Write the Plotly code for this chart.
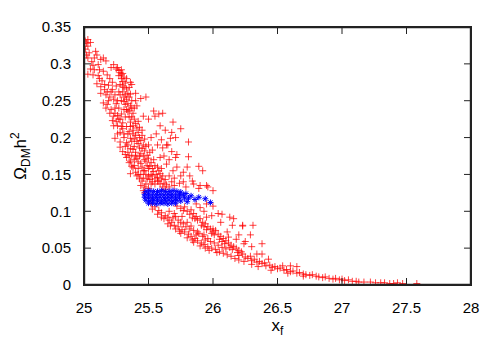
import plotly.graph_objects as go

# relic density vs freeze-out parameter
# (x_f, Omega_DM h^2) pairs, grouped by region of the scan

red_top = [
    (25.01, 0.331), (25.02, 0.328), (25.03, 0.333), (25.03, 0.324), (25.05, 0.329),
    (25.01, 0.320), (25.02, 0.312), (25.09, 0.317), (25.10, 0.312), (25.08, 0.308),
    (25.03, 0.308), (25.15, 0.308), (25.17, 0.304), (25.13, 0.306), (25.07, 0.298),
    (25.11, 0.299), (25.05, 0.293), (25.03, 0.286), (25.07, 0.285), (25.11, 0.284),
    (25.10, 0.273), (25.13, 0.269), (25.14, 0.277), (25.19, 0.271), (25.13, 0.260),
    (25.17, 0.258), (25.16, 0.265), (25.15, 0.247), (25.17, 0.240), (25.20, 0.233),
    (25.19, 0.250), (25.21, 0.262), (25.23, 0.229), (25.24, 0.240), (25.25, 0.246),
    (25.22, 0.223), (25.26, 0.216), (25.23, 0.216), (25.18, 0.245), (25.21, 0.238),
    (25.23, 0.252), (25.26, 0.230), (25.25, 0.222), (25.27, 0.240), (25.29, 0.232),
    (25.29, 0.250), (25.20, 0.280), (25.22, 0.275), (25.12, 0.292), (25.18, 0.285),
]

red_band = [
    (25.23, 0.299), (25.21, 0.295), (25.25, 0.293), (25.27, 0.291), (25.26, 0.295),
    (25.28, 0.288), (25.29, 0.292), (25.30, 0.287), (25.27, 0.284), (25.29, 0.280),
    (25.31, 0.282), (25.30, 0.276), (25.32, 0.274), (25.28, 0.272), (25.31, 0.268),
    (25.33, 0.266), (25.30, 0.262), (25.32, 0.258), (25.34, 0.260), (25.33, 0.252),
    (25.35, 0.255), (25.31, 0.249), (25.34, 0.246), (25.36, 0.243), (25.35, 0.237),
    (25.37, 0.240), (25.38, 0.233), (25.33, 0.238), (25.37, 0.228), (25.39, 0.225),
    (25.36, 0.221), (25.40, 0.219), (25.41, 0.213), (25.38, 0.210), (25.42, 0.207),
    (25.40, 0.203), (25.43, 0.200), (25.45, 0.203), (25.44, 0.196), (25.42, 0.192),
    (25.46, 0.190), (25.45, 0.185), (25.47, 0.182), (25.48, 0.188), (25.44, 0.178),
    (25.49, 0.176), (25.50, 0.172), (25.48, 0.168), (25.52, 0.166), (25.51, 0.161),
    (25.53, 0.158), (25.55, 0.162), (25.54, 0.154), (25.56, 0.150), (25.52, 0.150),
    (25.57, 0.146), (25.59, 0.151), (25.58, 0.141), (25.60, 0.144), (25.62, 0.138),
    (25.61, 0.133), (25.64, 0.136), (25.55, 0.137), (25.66, 0.133), (25.63, 0.130),
    (25.36, 0.275), (25.37, 0.272), (25.40, 0.260), (25.44, 0.253), (25.48, 0.255),
    (25.40, 0.250), (25.41, 0.243), (25.36, 0.259), (25.29, 0.285), (25.30, 0.270),
    (25.31, 0.255), (25.32, 0.245), (25.34, 0.235), (25.35, 0.228), (25.36, 0.215),
    (25.38, 0.205), (25.39, 0.198), (25.41, 0.195), (25.43, 0.186), (25.46, 0.175),
    (25.47, 0.170), (25.49, 0.162), (25.50, 0.158), (25.53, 0.148), (25.55, 0.144),
    (25.59, 0.137), (25.33, 0.280), (25.35, 0.268), (25.37, 0.250), (25.39, 0.240),
    (25.42, 0.222), (25.43, 0.214), (25.45, 0.210), (25.47, 0.198), (25.50, 0.190),
    (25.51, 0.180), (25.54, 0.170), (25.57, 0.160), (25.58, 0.155), (25.61, 0.148),
    (25.63, 0.143),
]

red_edge = [
    (25.24, 0.199), (25.28, 0.194), (25.28, 0.187), (25.26, 0.205), (25.28, 0.207),
    (25.32, 0.177), (25.33, 0.173), (25.30, 0.181), (25.37, 0.161), (25.38, 0.159),
    (25.35, 0.166), (25.41, 0.148), (25.40, 0.153), (25.45, 0.141), (25.44, 0.135),
    (25.46, 0.128), (25.43, 0.144), (25.36, 0.168), (25.42, 0.167), (25.36, 0.151),
    (25.46, 0.155), (25.49, 0.144), (25.57, 0.141), (25.38, 0.184), (25.36, 0.199),
    (25.38, 0.216), (25.28, 0.225), (25.46, 0.229), (25.50, 0.225), (25.30, 0.212),
    (25.33, 0.193), (25.34, 0.205), (25.40, 0.175), (25.47, 0.133), (25.50, 0.131),
    (25.52, 0.137), (25.48, 0.137), (25.30, 0.220), (25.31, 0.200), (25.32, 0.188),
    (25.34, 0.180), (25.35, 0.175), (25.39, 0.170), (25.42, 0.158), (25.44, 0.150),
]

red_fill = [
    (25.20, 0.255), (25.24, 0.258), (25.27, 0.262), (25.22, 0.265), (25.25, 0.270),
    (25.18, 0.262), (25.26, 0.250), (25.28, 0.258), (25.24, 0.233), (25.27, 0.225),
    (25.31, 0.238), (25.29, 0.215), (25.32, 0.228), (25.33, 0.215), (25.35, 0.208),
    (25.31, 0.205), (25.37, 0.195), (25.34, 0.190), (25.36, 0.185), (25.39, 0.188),
    (25.40, 0.180), (25.37, 0.176), (25.41, 0.172), (25.43, 0.175), (25.44, 0.165),
    (25.45, 0.160), (25.47, 0.155), (25.48, 0.150), (25.50, 0.148), (25.51, 0.143),
    (25.53, 0.140), (25.46, 0.145), (25.39, 0.162), (25.42, 0.150), (25.16, 0.272),
    (25.12, 0.280), (25.15, 0.290), (25.08, 0.292), (25.06, 0.303), (25.04, 0.315),
]

red_spread = [
    (25.54, 0.236), (25.58, 0.232), (25.55, 0.229), (25.61, 0.233), (25.69, 0.221),
    (25.59, 0.216), (25.63, 0.210), (25.68, 0.207), (25.75, 0.212), (25.71, 0.200),
    (25.67, 0.199), (25.81, 0.194), (25.64, 0.190), (25.61, 0.186), (25.68, 0.181),
    (25.71, 0.173), (25.81, 0.174), (25.64, 0.164), (25.72, 0.160), (25.80, 0.160),
    (25.89, 0.161), (25.92, 0.155), (25.75, 0.148), (25.82, 0.148), (25.77, 0.140),
    (25.85, 0.137), (25.90, 0.135), (25.95, 0.135), (26.00, 0.128), (25.65, 0.190),
    (25.72, 0.177), (25.77, 0.153), (25.59, 0.173), (25.57, 0.190), (25.66, 0.170),
    (25.69, 0.155), (25.84, 0.141), (25.89, 0.131), (25.96, 0.133), (25.70, 0.145),
    (25.74, 0.138), (25.52, 0.200), (25.56, 0.205), (25.60, 0.197), (25.53, 0.183),
    (25.62, 0.175), (25.60, 0.158), (25.66, 0.148), (25.79, 0.133), (25.70, 0.135),
    (25.68, 0.140),
]

red_upper_branch = [
    (25.72, 0.107), (25.75, 0.104), (25.78, 0.106), (25.80, 0.100), (25.83, 0.102),
    (25.82, 0.096), (25.85, 0.097), (25.87, 0.093), (25.84, 0.091), (25.88, 0.088),
    (25.90, 0.090), (25.92, 0.085), (25.91, 0.081), (25.94, 0.083), (25.96, 0.079),
    (25.95, 0.075), (25.98, 0.076), (26.00, 0.072), (26.02, 0.074), (26.01, 0.068),
    (26.04, 0.069), (26.06, 0.066), (26.05, 0.062), (26.08, 0.063), (26.10, 0.060),
    (26.12, 0.057), (26.09, 0.056), (26.14, 0.054), (26.16, 0.052), (26.18, 0.050),
    (26.15, 0.048), (26.20, 0.047), (26.22, 0.045), (25.77, 0.101), (25.86, 0.090),
    (25.93, 0.079), (25.99, 0.070), (26.07, 0.059), (26.13, 0.051), (26.19, 0.044),
]

red_lower_branch = [
    (25.47, 0.125), (25.50, 0.118), (25.52, 0.110), (25.55, 0.106), (25.53, 0.103),
    (25.58, 0.101), (25.60, 0.098), (25.57, 0.096), (25.63, 0.094), (25.62, 0.090),
    (25.66, 0.088), (25.68, 0.085), (25.65, 0.083), (25.70, 0.081), (25.73, 0.079),
    (25.71, 0.076), (25.76, 0.075), (25.78, 0.072), (25.75, 0.070), (25.81, 0.069),
    (25.83, 0.066), (25.80, 0.064), (25.86, 0.063), (25.88, 0.060), (25.85, 0.058),
    (25.91, 0.057), (25.93, 0.055), (25.90, 0.053), (25.96, 0.052), (25.99, 0.050),
    (26.02, 0.048), (25.97, 0.047), (26.05, 0.045), (26.08, 0.043), (26.11, 0.041),
    (26.14, 0.039), (26.17, 0.036), (26.20, 0.034), (26.24, 0.032), (25.60, 0.092),
    (25.67, 0.080), (25.74, 0.073), (25.84, 0.061), (25.94, 0.050), (26.03, 0.044),
]

red_between = [
    (25.65, 0.092), (25.69, 0.091), (25.73, 0.088), (25.71, 0.093), (25.77, 0.083),
    (25.79, 0.079), (25.75, 0.085), (25.82, 0.076), (25.85, 0.074), (25.83, 0.080),
    (25.89, 0.070), (25.92, 0.066), (25.87, 0.068), (25.96, 0.063), (25.98, 0.059),
    (26.01, 0.057), (26.04, 0.054), (26.07, 0.051), (26.10, 0.049), (25.94, 0.061),
]

red_middle = [
    (26.00, 0.107), (25.99, 0.094), (26.07, 0.096), (26.13, 0.092), (26.15, 0.081),
    (26.23, 0.081), (26.31, 0.081), (26.29, 0.068), (26.38, 0.056), (26.20, 0.068),
    (26.24, 0.056), (26.11, 0.072), (26.06, 0.085), (26.00, 0.076), (26.16, 0.090),
    (26.23, 0.080), (26.04, 0.097), (25.93, 0.100), (25.95, 0.110), (25.90, 0.105),
    (25.87, 0.110), (25.88, 0.072), (25.93, 0.068), (26.12, 0.065), (26.18, 0.062),
    (26.25, 0.059), (26.30, 0.052), (26.34, 0.042), (26.38, 0.042), (25.76, 0.093),
    (25.80, 0.085), (25.70, 0.097), (25.66, 0.100), (25.95, 0.092),
]

red_tail = [
    (26.20, 0.040), (26.23, 0.042), (26.25, 0.038), (26.27, 0.036), (26.29, 0.039),
    (26.30, 0.033), (26.32, 0.035), (26.34, 0.031), (26.36, 0.032), (26.38, 0.029),
    (26.40, 0.030), (26.41, 0.026), (26.43, 0.035), (26.44, 0.027), (26.46, 0.024),
    (26.48, 0.025), (26.50, 0.022), (26.52, 0.023), (26.54, 0.026), (26.55, 0.020),
    (26.57, 0.021), (26.60, 0.026), (26.60, 0.018), (26.62, 0.019), (26.65, 0.025),
    (26.65, 0.016), (26.67, 0.017), (26.70, 0.015), (26.72, 0.014), (26.75, 0.013),
    (26.77, 0.014), (26.80, 0.012), (26.82, 0.011), (26.85, 0.010), (26.87, 0.011),
    (26.90, 0.009), (26.93, 0.008), (26.95, 0.009), (26.98, 0.007), (27.00, 0.008),
    (27.02, 0.006), (27.05, 0.007), (27.08, 0.005), (27.11, 0.005), (27.13, 0.004),
    (27.17, 0.004), (27.22, 0.004), (27.26, 0.003), (27.30, 0.003), (27.33, 0.003),
    (27.37, 0.002), (27.40, 0.002), (27.43, 0.003), (27.47, 0.002), (27.58, 0.002),
    (26.30, 0.028), (26.35, 0.025), (26.45, 0.020), (26.58, 0.016), (26.70, 0.012),
]

# points that satisfy the relic density constraint
blue_pts = [
    (25.48, 0.127), (25.51, 0.128), (25.54, 0.127), (25.57, 0.127), (25.60, 0.128),
    (25.63, 0.127), (25.66, 0.127), (25.69, 0.128), (25.72, 0.127), (25.75, 0.126),
    (25.47, 0.123), (25.50, 0.123), (25.53, 0.122), (25.56, 0.123), (25.59, 0.123),
    (25.62, 0.122), (25.65, 0.123), (25.68, 0.123), (25.71, 0.122), (25.74, 0.123),
    (25.77, 0.122), (25.47, 0.119), (25.50, 0.119), (25.53, 0.118), (25.56, 0.119),
    (25.59, 0.119), (25.62, 0.118), (25.65, 0.119), (25.68, 0.119), (25.71, 0.118),
    (25.74, 0.119), (25.78, 0.118), (25.48, 0.115), (25.51, 0.114), (25.54, 0.115),
    (25.57, 0.115), (25.60, 0.114), (25.63, 0.115), (25.66, 0.115), (25.69, 0.114),
    (25.72, 0.115), (25.75, 0.114), (25.50, 0.111), (25.53, 0.111), (25.56, 0.110),
    (25.59, 0.111), (25.62, 0.111), (25.65, 0.110), (25.68, 0.111), (25.71, 0.111),
    (25.79, 0.124), (25.81, 0.118), (25.83, 0.121), (25.86, 0.116), (25.80, 0.113),
    (25.94, 0.117), (25.98, 0.112), (25.89, 0.119),
]

x_range = [25, 28]
y_range = [0, 0.35]
x_ticks = [25, 25.5, 26, 26.5, 27, 27.5, 28]
y_ticks = [0, 0.05, 0.1, 0.15, 0.2, 0.25, 0.3, 0.35]

red_all = (red_top + red_band + red_edge + red_fill + red_spread + red_upper_branch
           + red_lower_branch + red_between + red_middle + red_tail)
red_x = [p[0] for p in red_all]
red_y = [p[1] for p in red_all]
blue_x = [p[0] for p in blue_pts]
blue_y = [p[1] for p in blue_pts]

fig = go.Figure()
fig.add_trace(go.Scatter(
    x=red_x, y=red_y, mode="markers",
    marker=dict(symbol="cross-thin-open", size=5, color="rgba(255,0,0,0.75)", line=dict(width=1)),
    showlegend=False, hoverinfo="x+y",
))
fig.add_trace(go.Scatter(
    x=blue_x, y=blue_y, mode="markers",
    marker=dict(symbol="asterisk-open", size=5, color="#0000ff", line=dict(width=1)),
    showlegend=False, hoverinfo="x+y",
))

x0, x1 = x_range
y0, y1 = y_range
frame_color = "#222222"

# gnuplot-style border: 1px filled strips just inside the plot area
# (shapes are clipped to the plot area, so they must not straddle its edge)
fig.add_shape(type="rect", xref="x", xsizemode="pixel", xanchor=x0, x0=0, x1=1.2,
              yref="y domain", y0=0, y1=1, fillcolor=frame_color, line=dict(width=0), layer="above")
fig.add_shape(type="rect", xref="x", xsizemode="pixel", xanchor=x1, x0=-1.2, x1=0,
              yref="y domain", y0=0, y1=1, fillcolor=frame_color, line=dict(width=0), layer="above")
fig.add_shape(type="rect", yref="y", ysizemode="pixel", yanchor=y0, y0=0, y1=1.2,
              xref="x domain", x0=0, x1=1, fillcolor=frame_color, line=dict(width=0), layer="above")
fig.add_shape(type="rect", yref="y", ysizemode="pixel", yanchor=y1, y0=-1.2, y1=0,
              xref="x domain", x0=0, x1=1, fillcolor=frame_color, line=dict(width=0), layer="above")

# inward ticks on all four sides, the outer half is clipped away
inner_x = x_ticks[1:-1]
inner_y = y_ticks[1:-1]
fig.add_trace(go.Scatter(
    x=inner_x + inner_x, y=[y0] * len(inner_x) + [y1] * len(inner_x), mode="markers",
    marker=dict(symbol="line-ns-open", size=10, color=frame_color, line=dict(width=1)),
    cliponaxis=True, showlegend=False, hoverinfo="skip",
))
fig.add_trace(go.Scatter(
    x=[x0] * len(inner_y) + [x1] * len(inner_y), y=inner_y + inner_y, mode="markers",
    marker=dict(symbol="line-ew-open", size=10, color=frame_color, line=dict(width=1)),
    cliponaxis=True, showlegend=False, hoverinfo="skip",
))

axis_style = dict(
    showline=True, linecolor=frame_color, linewidth=1, mirror=True,
    ticks="", showgrid=False, zeroline=False,
    ticklabelstandoff=9,
    tickfont=dict(family="Liberation Sans, Arial, sans-serif", size=15, color="black"),
)

# the page body adds an 8px offset, so the figure is a bit smaller than the window
fig.update_layout(
    width=490, height=341,
    margin=dict(l=76, r=27, t=10, b=64),
    paper_bgcolor="white", plot_bgcolor="white",
    font=dict(family="Liberation Sans, Arial, sans-serif", color="black"),
    xaxis=dict(range=x_range, tickvals=x_ticks, ticktext=[f"{v:g}" for v in x_ticks],
               title=dict(text="x<sub>f</sub>", font=dict(size=17), standoff=2), **axis_style),
    yaxis=dict(range=y_range, tickvals=y_ticks, ticktext=[f"{v:g}" for v in y_ticks],
               title=dict(text="Ω<sub>DM</sub>h<sup>2</sup>", font=dict(size=17), standoff=10), **axis_style),
)

fig.write_html("out.html")
